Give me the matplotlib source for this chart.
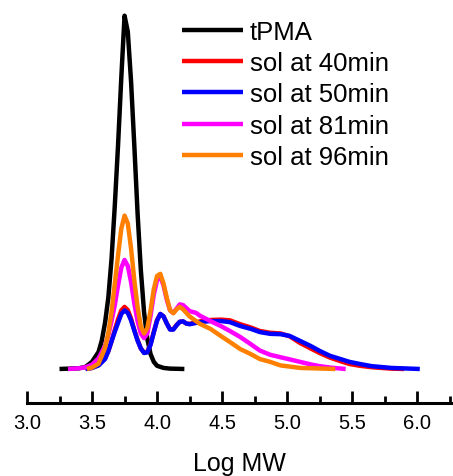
#!/usr/bin/env python
# -*- coding: utf-8 -*-

import matplotlib
matplotlib.use('Agg')
import matplotlib.pyplot as plt
from matplotlib.ticker import MultipleLocator

# GPC traces, Log MW vs normalised detector signal
tpma_x = [3.25, 3.40, 3.45, 3.50, 3.55, 3.575, 3.60, 3.625, 3.65, 3.675, 3.70,
          3.725, 3.75, 3.775, 3.80, 3.825, 3.85, 3.875, 3.90, 3.925, 3.95,
          3.975, 4.00, 4.05, 4.10, 4.21]
tpma_y = [0.0, 0.002, 0.006, 0.02, 0.048, 0.08, 0.13, 0.20, 0.31, 0.46, 0.63,
          0.82, 0.995, 0.95, 0.81, 0.63, 0.44, 0.28, 0.16, 0.085, 0.042,
          0.02, 0.009, 0.003, 0.001, 0.0]

sol40_x = [3.45, 3.50, 3.55, 3.60, 3.625, 3.65, 3.675, 3.70, 3.725, 3.75, 3.775,
           3.80, 3.825, 3.85, 3.875, 3.90, 3.925, 3.95, 3.975, 4.00, 4.025,
           4.05, 4.075, 4.10, 4.125, 4.15, 4.175, 4.20, 4.225, 4.25, 4.33,
           4.41, 4.49, 4.56, 4.64, 4.72, 4.79, 4.87, 4.95, 5.02, 5.10, 5.18,
           5.25, 5.33, 5.41, 5.48, 5.56, 5.65, 5.80, 5.90]
sol40_y = [0.0, 0.003, 0.011, 0.03, 0.05, 0.078, 0.11, 0.14, 0.165, 0.175, 0.166,
           0.142, 0.11, 0.082, 0.058, 0.046, 0.048, 0.07, 0.105, 0.138, 0.155,
           0.148, 0.128, 0.112, 0.112, 0.124, 0.133, 0.134, 0.128, 0.127, 0.134,
           0.138, 0.139, 0.137, 0.126, 0.117, 0.107, 0.102, 0.1, 0.092, 0.073,
           0.058, 0.045, 0.032, 0.022, 0.014, 0.009, 0.005, 0.001, 0.0]

sol50_x = [3.45, 3.50, 3.55, 3.60, 3.625, 3.65, 3.675, 3.70, 3.725, 3.75, 3.775,
           3.80, 3.825, 3.85, 3.875, 3.90, 3.925, 3.95, 3.975, 4.00, 4.025,
           4.05, 4.075, 4.10, 4.125, 4.15, 4.175, 4.20, 4.225, 4.25, 4.33,
           4.41, 4.49, 4.56, 4.64, 4.72, 4.79, 4.87, 4.95, 5.02, 5.10, 5.18,
           5.25, 5.33, 5.41, 5.48, 5.56, 5.65, 5.80, 6.02]
sol50_y = [0.0, 0.003, 0.01, 0.028, 0.05, 0.078, 0.105, 0.13, 0.155, 0.165, 0.158,
           0.137, 0.108, 0.08, 0.058, 0.045, 0.047, 0.068, 0.103, 0.136, 0.155,
           0.148, 0.128, 0.111, 0.111, 0.123, 0.133, 0.134, 0.128, 0.126, 0.132,
           0.135, 0.135, 0.132, 0.121, 0.113, 0.104, 0.099, 0.098, 0.093, 0.079,
           0.065, 0.051, 0.037, 0.028, 0.02, 0.014, 0.008, 0.003, 0.0]

sol81_x = [3.315, 3.40, 3.45, 3.50, 3.55, 3.60, 3.625, 3.65, 3.675, 3.70, 3.725,
           3.75, 3.775, 3.80, 3.825, 3.85, 3.875, 3.90, 3.925, 3.95, 3.975,
           4.00, 4.025, 4.05, 4.075, 4.10, 4.125, 4.15, 4.175, 4.20, 4.25,
           4.30, 4.33, 4.41, 4.49, 4.56, 4.64, 4.72, 4.79, 4.87, 4.95, 5.02,
           5.10, 5.18, 5.25, 5.33, 5.45]
sol81_y = [0.0, 0.002, 0.005, 0.012, 0.03, 0.065, 0.095, 0.135, 0.18, 0.235, 0.285,
           0.307, 0.29, 0.245, 0.185, 0.135, 0.1, 0.087, 0.1, 0.15, 0.21,
           0.25, 0.26, 0.235, 0.195, 0.165, 0.158, 0.17, 0.182, 0.18, 0.163,
           0.158, 0.15, 0.135, 0.121, 0.107, 0.09, 0.07, 0.052, 0.04, 0.033, 0.027,
           0.02, 0.013, 0.008, 0.004, 0.0]

sol96_x = [3.46, 3.50, 3.55, 3.60, 3.625, 3.65, 3.675, 3.70, 3.725, 3.75, 3.775,
           3.80, 3.825, 3.85, 3.875, 3.90, 3.925, 3.95, 3.975, 4.00, 4.025,
           4.05, 4.075, 4.10, 4.125, 4.15, 4.175, 4.20, 4.25, 4.33, 4.41,
           4.49, 4.56, 4.64, 4.72, 4.79, 4.87, 4.95, 5.10, 5.37]
sol96_y = [0.0, 0.004, 0.015, 0.06, 0.1, 0.16, 0.24, 0.32, 0.395, 0.432, 0.41,
           0.34, 0.25, 0.175, 0.12, 0.1, 0.115, 0.165, 0.225, 0.262, 0.268,
           0.24, 0.2, 0.165, 0.157, 0.168, 0.175, 0.168, 0.148, 0.127, 0.113,
           0.093, 0.076, 0.056, 0.042, 0.028, 0.02, 0.01, 0.003, 0.0]

series = [
    (tpma_x, tpma_y, 'black', 'tPMA'),
    (sol40_x, sol40_y, '#ff0000', 'sol at 40min'),
    (sol50_x, sol50_y, '#0000ff', 'sol at 50min'),
    (sol81_x, sol81_y, '#ff00ff', 'sol at 81min'),
    (sol96_x, sol96_y, '#ff8000', 'sol at 96min'),
]


def main():
    plt.rcParams['font.family'] = ['Liberation Sans', 'DejaVu Sans']

    fig = plt.figure(figsize=(4.53, 4.77), dpi=100)
    ax = fig.add_axes([27 / 453, 73 / 477, 424 / 453, 404 / 477])

    for xs, ys, color, label in series:
        ax.plot(xs, ys, color=color, linewidth=3.2, label=label,
                solid_joinstyle='round', solid_capstyle='butt')

    ax.set_xlim(3.0, 6.26)
    ax.set_ylim(-0.0958, 1.042)

    ax.xaxis.set_major_locator(MultipleLocator(0.5))
    ax.xaxis.set_minor_locator(MultipleLocator(0.25))
    ax.tick_params(axis='x', which='major', direction='in', length=9,
                   width=2, labelsize=14.5, pad=7)
    ax.tick_params(axis='x', which='minor', direction='in', length=5, width=2)
    ax.set_yticks([])

    for side in ['top', 'right', 'left']:
        ax.spines[side].set_visible(False)
    ax.spines['bottom'].set_linewidth(2.2)

    ax.set_xlabel('Log MW', fontsize=18, labelpad=14)

    ax.legend(loc='upper left', bbox_to_anchor=(182 / 453, 1 - 21 / 477),
              bbox_transform=fig.transFigure, frameon=False, fontsize=18.5,
              borderpad=0, borderaxespad=0, handlelength=2.37,
              handletextpad=0.28, labelspacing=0.28)

    fig.savefig('out.png', dpi=100)


if __name__ == "__main__":
    main()
